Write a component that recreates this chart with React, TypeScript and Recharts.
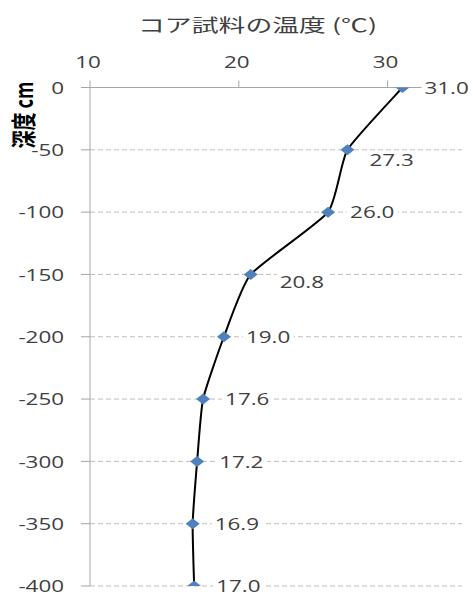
import React from "react";
import {
  ComposedChart,
  Line,
  XAxis,
  YAxis,
  CartesianGrid,
  LabelList,
} from "recharts";

// Core-sample temperature (°C) by depth (cm)
const depths = [0, -50, -100, -150, -200, -250, -300, -350, -400];
const temps = [31.0, 27.3, 26.0, 20.8, 19.0, 17.6, 17.2, 16.9, 17.0];
const xTicks = [10, 20, 30];
const yTicks = [0, -50, -100, -150, -200, -250, -300, -350, -400];

const data = depths.map((depth, i) => ({ depth, temp: temps[i] }));

// Hand-placed offsets for a couple of value labels
const LABEL_NUDGE: Record<number, { dx: number; dy: number }> = {
  1: { dx: 0, dy: 10 },
  3: { dx: 7, dy: 7 },
};

const NUM_FONT = "'Open Sans', 'Liberation Sans', sans-serif";
const CJK_FONT = "'Noto Sans CJK JP', 'Noto Sans', sans-serif";
const TEXT = "#404040";
const STRETCH = 1.4;
const TENSION = 1 / 12;

// Lightly smoothed line through every point (Catmull-Rom style Béziers)
const smoothCurve = (context: any) => {
  let pts: [number, number][] = [];
  return {
    areaStart() {},
    areaEnd() {},
    lineStart() {
      pts = [];
    },
    point(x: number, y: number) {
      pts.push([+x, +y]);
    },
    lineEnd() {
      if (!pts.length) return;
      context.moveTo(pts[0][0], pts[0][1]);
      for (let i = 0; i < pts.length - 1; i++) {
        const p0 = pts[i - 1] ?? pts[i];
        const p1 = pts[i];
        const p2 = pts[i + 1];
        const p3 = pts[i + 2] ?? p2;
        context.bezierCurveTo(
          p1[0] + (p2[0] - p0[0]) * TENSION,
          p1[1] + (p2[1] - p0[1]) * TENSION,
          p2[0] - (p3[0] - p1[0]) * TENSION,
          p2[1] - (p3[1] - p1[1]) * TENSION,
          p2[0],
          p2[1]
        );
      }
    },
  };
};

const XTick = (props: any) => {
  const { x, y, payload } = props;
  return (
    <text
      transform={`translate(${x - 2} ${y}) scale(${STRETCH} 1)`}
      textAnchor="middle"
      fontSize={16}
      fontFamily={NUM_FONT}
      fill={TEXT}
    >
      {payload.value}
    </text>
  );
};

const YTick = (props: any) => {
  const { x, y, payload } = props;
  return (
    <text
      transform={`translate(${x} ${y}) scale(${STRETCH} 1)`}
      textAnchor="end"
      dominantBaseline="central"
      fontSize={16}
      fontFamily={NUM_FONT}
      fill={TEXT}
    >
      {payload.value}
    </text>
  );
};

const Diamond = (props: any) => {
  const { cx, cy, index } = props;
  if (cx == null || cy == null) return <g key={`d-${index}`} />;
  return (
    <path
      key={`d-${index}`}
      d={`M${cx - 7},${cy} L${cx},${cy - 5.5} L${cx + 7},${cy} L${cx},${cy + 5.5} Z`}
      fill="#4F81BD"
    />
  );
};

const ValueLabel = (props: any) => {
  const { x, y, value, index } = props;
  const nudge = LABEL_NUDGE[index] ?? { dx: 0, dy: 0 };
  const left = x + 22 + nudge.dx;
  const cy = y + nudge.dy;
  const text = Number(value).toFixed(1);
  return (
    <g>
      <rect x={left - 3} y={cy - 9} width={51} height={18} fill="#fff" />
      <text
        transform={`translate(${left} ${cy}) scale(${STRETCH} 1)`}
        textAnchor="start"
        dominantBaseline="central"
        fontSize={16}
        fontFamily={NUM_FONT}
        fill={TEXT}
      >
        {text}
      </text>
    </g>
  );
};

export default function App() {
  return (
    <div style={{ position: "absolute", left: 0, top: 0, background: "#fff" }}>
      <ComposedChart
        width={473}
        height={597}
        data={data}
        layout="vertical"
        margin={{ top: 57.5, right: 11, bottom: 11, left: 30 }}
      >
        <text
          x={138}
          y={32}
          textLength={239}
          lengthAdjust="spacingAndGlyphs"
          fontSize={18}
          fontFamily={CJK_FONT}
          fill={TEXT}
        >
          コア試料の温度 (℃)
        </text>
        <text
          transform="translate(22 115) rotate(-90) scale(1 1.4)"
          textAnchor="middle"
          dominantBaseline="central"
          fontSize={18}
          fontWeight="bold"
          fontFamily={CJK_FONT}
          fill="#000"
        >
          深度  cm
        </text>
        <CartesianGrid
          horizontal
          vertical={false}
          stroke="#BFBFBF"
          strokeDasharray="5 3"
        />
        <XAxis
          type="number"
          orientation="top"
          domain={[10, 35]}
          ticks={xTicks}
          height={30}
          tickSize={7}
          tickMargin={13}
          stroke="#A6A6A6"
          tick={<XTick />}
          allowDataOverflow
        />
        <YAxis
          type="number"
          dataKey="depth"
          domain={[-400, 0]}
          ticks={yTicks}
          reversed
          width={60}
          tickSize={9}
          tickMargin={17}
          stroke="#A6A6A6"
          tick={<YTick />}
          allowDataOverflow
        />
        <Line
          dataKey="temp"
          type={smoothCurve as any}
          stroke="#000"
          strokeWidth={2}
          dot={<Diamond />}
          activeDot={false}
          isAnimationActive={false}
        >
          <LabelList dataKey="temp" content={<ValueLabel />} />
        </Line>
      </ComposedChart>
    </div>
  );
}
